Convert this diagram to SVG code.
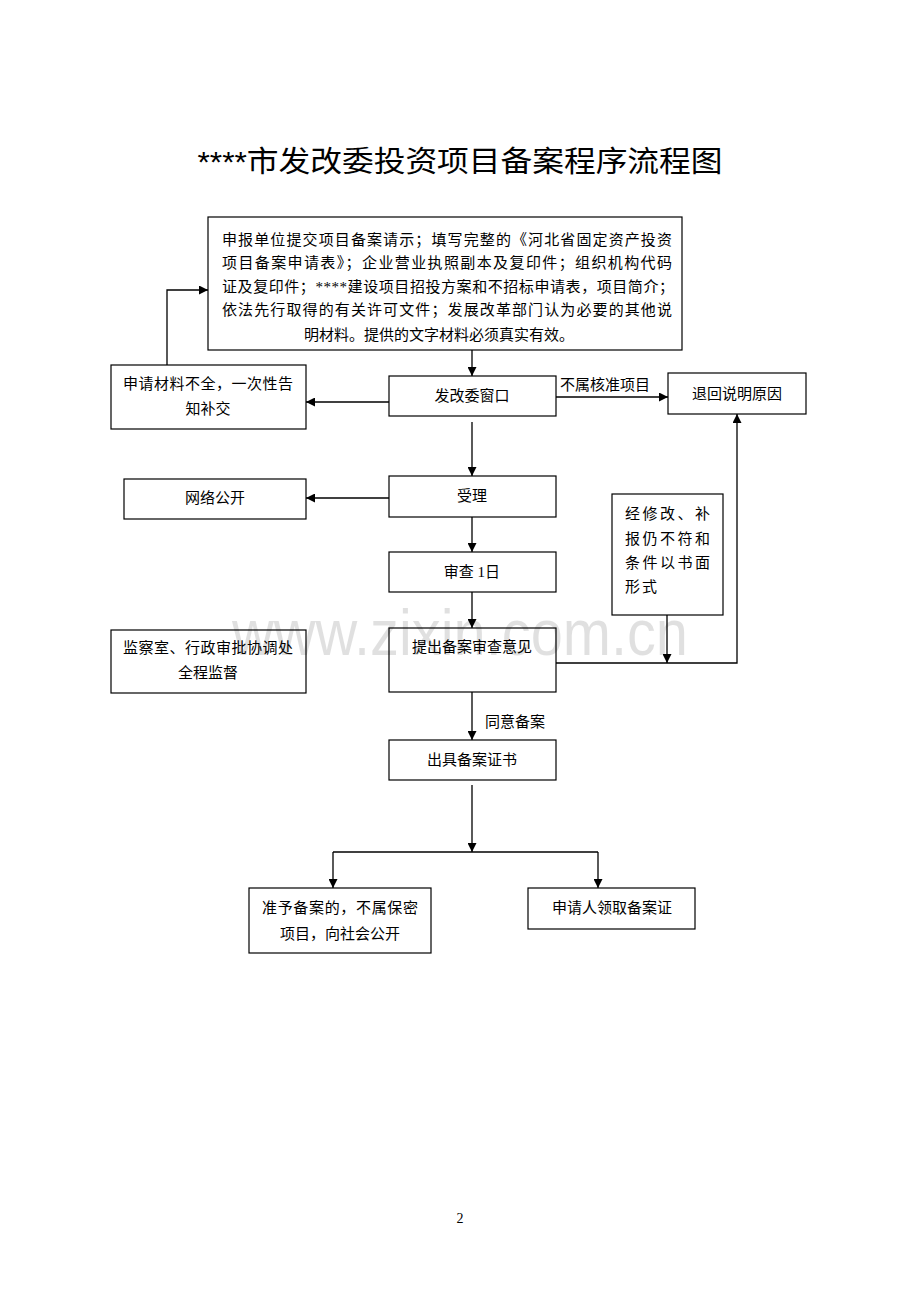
<svg xmlns="http://www.w3.org/2000/svg" width="920" height="1302" viewBox="0 0 920 1302">
<style>
.box{fill:#fff;stroke:#000;stroke-width:1.2}
.t{font-family:"Liberation Serif","Noto Sans CJK SC",serif;font-size:15px;fill:#000}
.m{text-anchor:middle}
.c{fill:none;stroke:#000;stroke-width:1.3}
</style>
<defs>
<marker id="a" viewBox="0 0 10 10" refX="10" refY="5" markerWidth="10" markerHeight="9" orient="auto" markerUnits="userSpaceOnUse"><path d="M0,0 L10,5 L0,10 z" fill="#000"/></marker>
</defs>
<rect width="920" height="1302" fill="#fff"/>
<text x="460" y="172" text-anchor="middle" font-family="'Liberation Sans','Noto Sans CJK SC',sans-serif" font-size="29" fill="#000" textLength="525" lengthAdjust="spacingAndGlyphs">****市发改委投资项目备案程序流程图</text>

<g id="connectors">
<path class="c" d="M472,350 V376" marker-end="url(#a)"/>
<path class="c" d="M389,402 H306" marker-end="url(#a)"/>
<path class="c" d="M556,397 H668" marker-end="url(#a)"/>
<path class="c" d="M167,365 V290 H208" marker-end="url(#a)"/>
<path class="c" d="M472,422 V476" marker-end="url(#a)"/>
<path class="c" d="M389,498 H306" marker-end="url(#a)"/>
<path class="c" d="M472,517 V552" marker-end="url(#a)"/>
<path class="c" d="M472,592 V628" marker-end="url(#a)"/>
<path class="c" d="M556,663 H737 V414" marker-end="url(#a)"/>
<path class="c" d="M667,615 V663" marker-end="url(#a)"/>
<path class="c" d="M472,692 V740" marker-end="url(#a)"/>
<path class="c" d="M472,785 V852" marker-end="url(#a)"/>
<path class="c" d="M333,852 H598"/>
<path class="c" d="M333,852 V888" marker-end="url(#a)"/>
<path class="c" d="M598,852 V888" marker-end="url(#a)"/>
<text class="t" x="560" y="390">不属核准项目</text>
<text class="t" x="485" y="727">同意备案</text>
</g>

<g id="n-submit">
<rect class="box" x="208" y="217" width="474" height="133"/>
<text class="t" x="222" y="245" textLength="450" lengthAdjust="spacing">申报单位提交项目备案请示；填写完整的《河北省固定资产投资</text>
<text class="t" x="222" y="268" textLength="450" lengthAdjust="spacing">项目备案申请表》；企业营业执照副本及复印件；组织机构代码</text>
<text class="t" x="222" y="292" textLength="452" lengthAdjust="spacing">证及复印件；****建设项目招投方案和不招标申请表，项目简介；</text>
<text class="t" x="222" y="315" textLength="450" lengthAdjust="spacing">依法先行取得的有关许可文件；发展改革部门认为必要的其他说</text>
<text class="t m" x="439" y="340">明材料。提供的文字材料必须真实有效。</text>
</g>

<g id="n-incomplete">
<rect class="box" x="111" y="365" width="195" height="64"/>
<text class="t m" x="208" y="389" textLength="170" lengthAdjust="spacing">申请材料不全，一次性告</text>
<text class="t m" x="208" y="414">知补交</text>
</g>

<g id="n-window">
<rect class="box" x="389" y="376" width="167" height="40"/>
<text class="t m" x="472" y="401">发改委窗口</text>
</g>

<g id="n-return">
<rect class="box" x="668" y="373" width="138" height="41"/>
<text class="t m" x="737" y="399">退回说明原因</text>
</g>

<g id="n-accept">
<rect class="box" x="389" y="476" width="167" height="41"/>
<text class="t m" x="472" y="501">受理</text>
</g>

<g id="n-publish">
<rect class="box" x="124" y="479" width="182" height="40"/>
<text class="t m" x="215" y="503">网络公开</text>
</g>

<g id="n-review">
<rect class="box" x="389" y="552" width="167" height="40"/>
<text class="t m" x="472" y="577">审查 1日</text>
</g>

<g id="n-modify">
<rect class="box" x="612" y="494" width="111" height="121"/>
<text class="t" x="625" y="519" textLength="85" lengthAdjust="spacing">经修改、补</text>
<text class="t" x="625" y="544" textLength="85" lengthAdjust="spacing">报仍不符和</text>
<text class="t" x="625" y="568" textLength="85" lengthAdjust="spacing">条件以书面</text>
<text class="t" x="625" y="592" textLength="32" lengthAdjust="spacing">形式</text>
</g>

<g id="n-opinion">
<rect class="box" x="389" y="628" width="167" height="64"/>
<text class="t m" x="472" y="652">提出备案审查意见</text>
</g>

<g id="n-supervise">
<rect class="box" x="111" y="630" width="195" height="63"/>
<text class="t m" x="208" y="653" textLength="170" lengthAdjust="spacing">监察室、行政审批协调处</text>
<text class="t m" x="208" y="678">全程监督</text>
</g>

<g id="n-cert">
<rect class="box" x="389" y="740" width="167" height="40"/>
<text class="t m" x="472" y="765">出具备案证书</text>
</g>

<g id="n-public">
<rect class="box" x="249" y="888" width="182" height="65"/>
<text class="t m" x="340" y="913" textLength="156" lengthAdjust="spacing">准予备案的，不属保密</text>
<text class="t m" x="340" y="939">项目，向社会公开</text>
</g>

<g id="n-collect">
<rect class="box" x="528" y="888" width="167" height="41"/>
<text class="t m" x="612" y="913">申请人领取备案证</text>
</g>

<text x="460" y="1223" text-anchor="middle" font-family="'Liberation Serif',serif" font-size="14" fill="#000">2</text>
<text x="460" y="655" text-anchor="middle" font-family="'Liberation Sans',sans-serif" font-size="64" fill="#000" fill-opacity="0.12" textLength="456" lengthAdjust="spacingAndGlyphs">www.zixin.com.cn</text>
</svg>
